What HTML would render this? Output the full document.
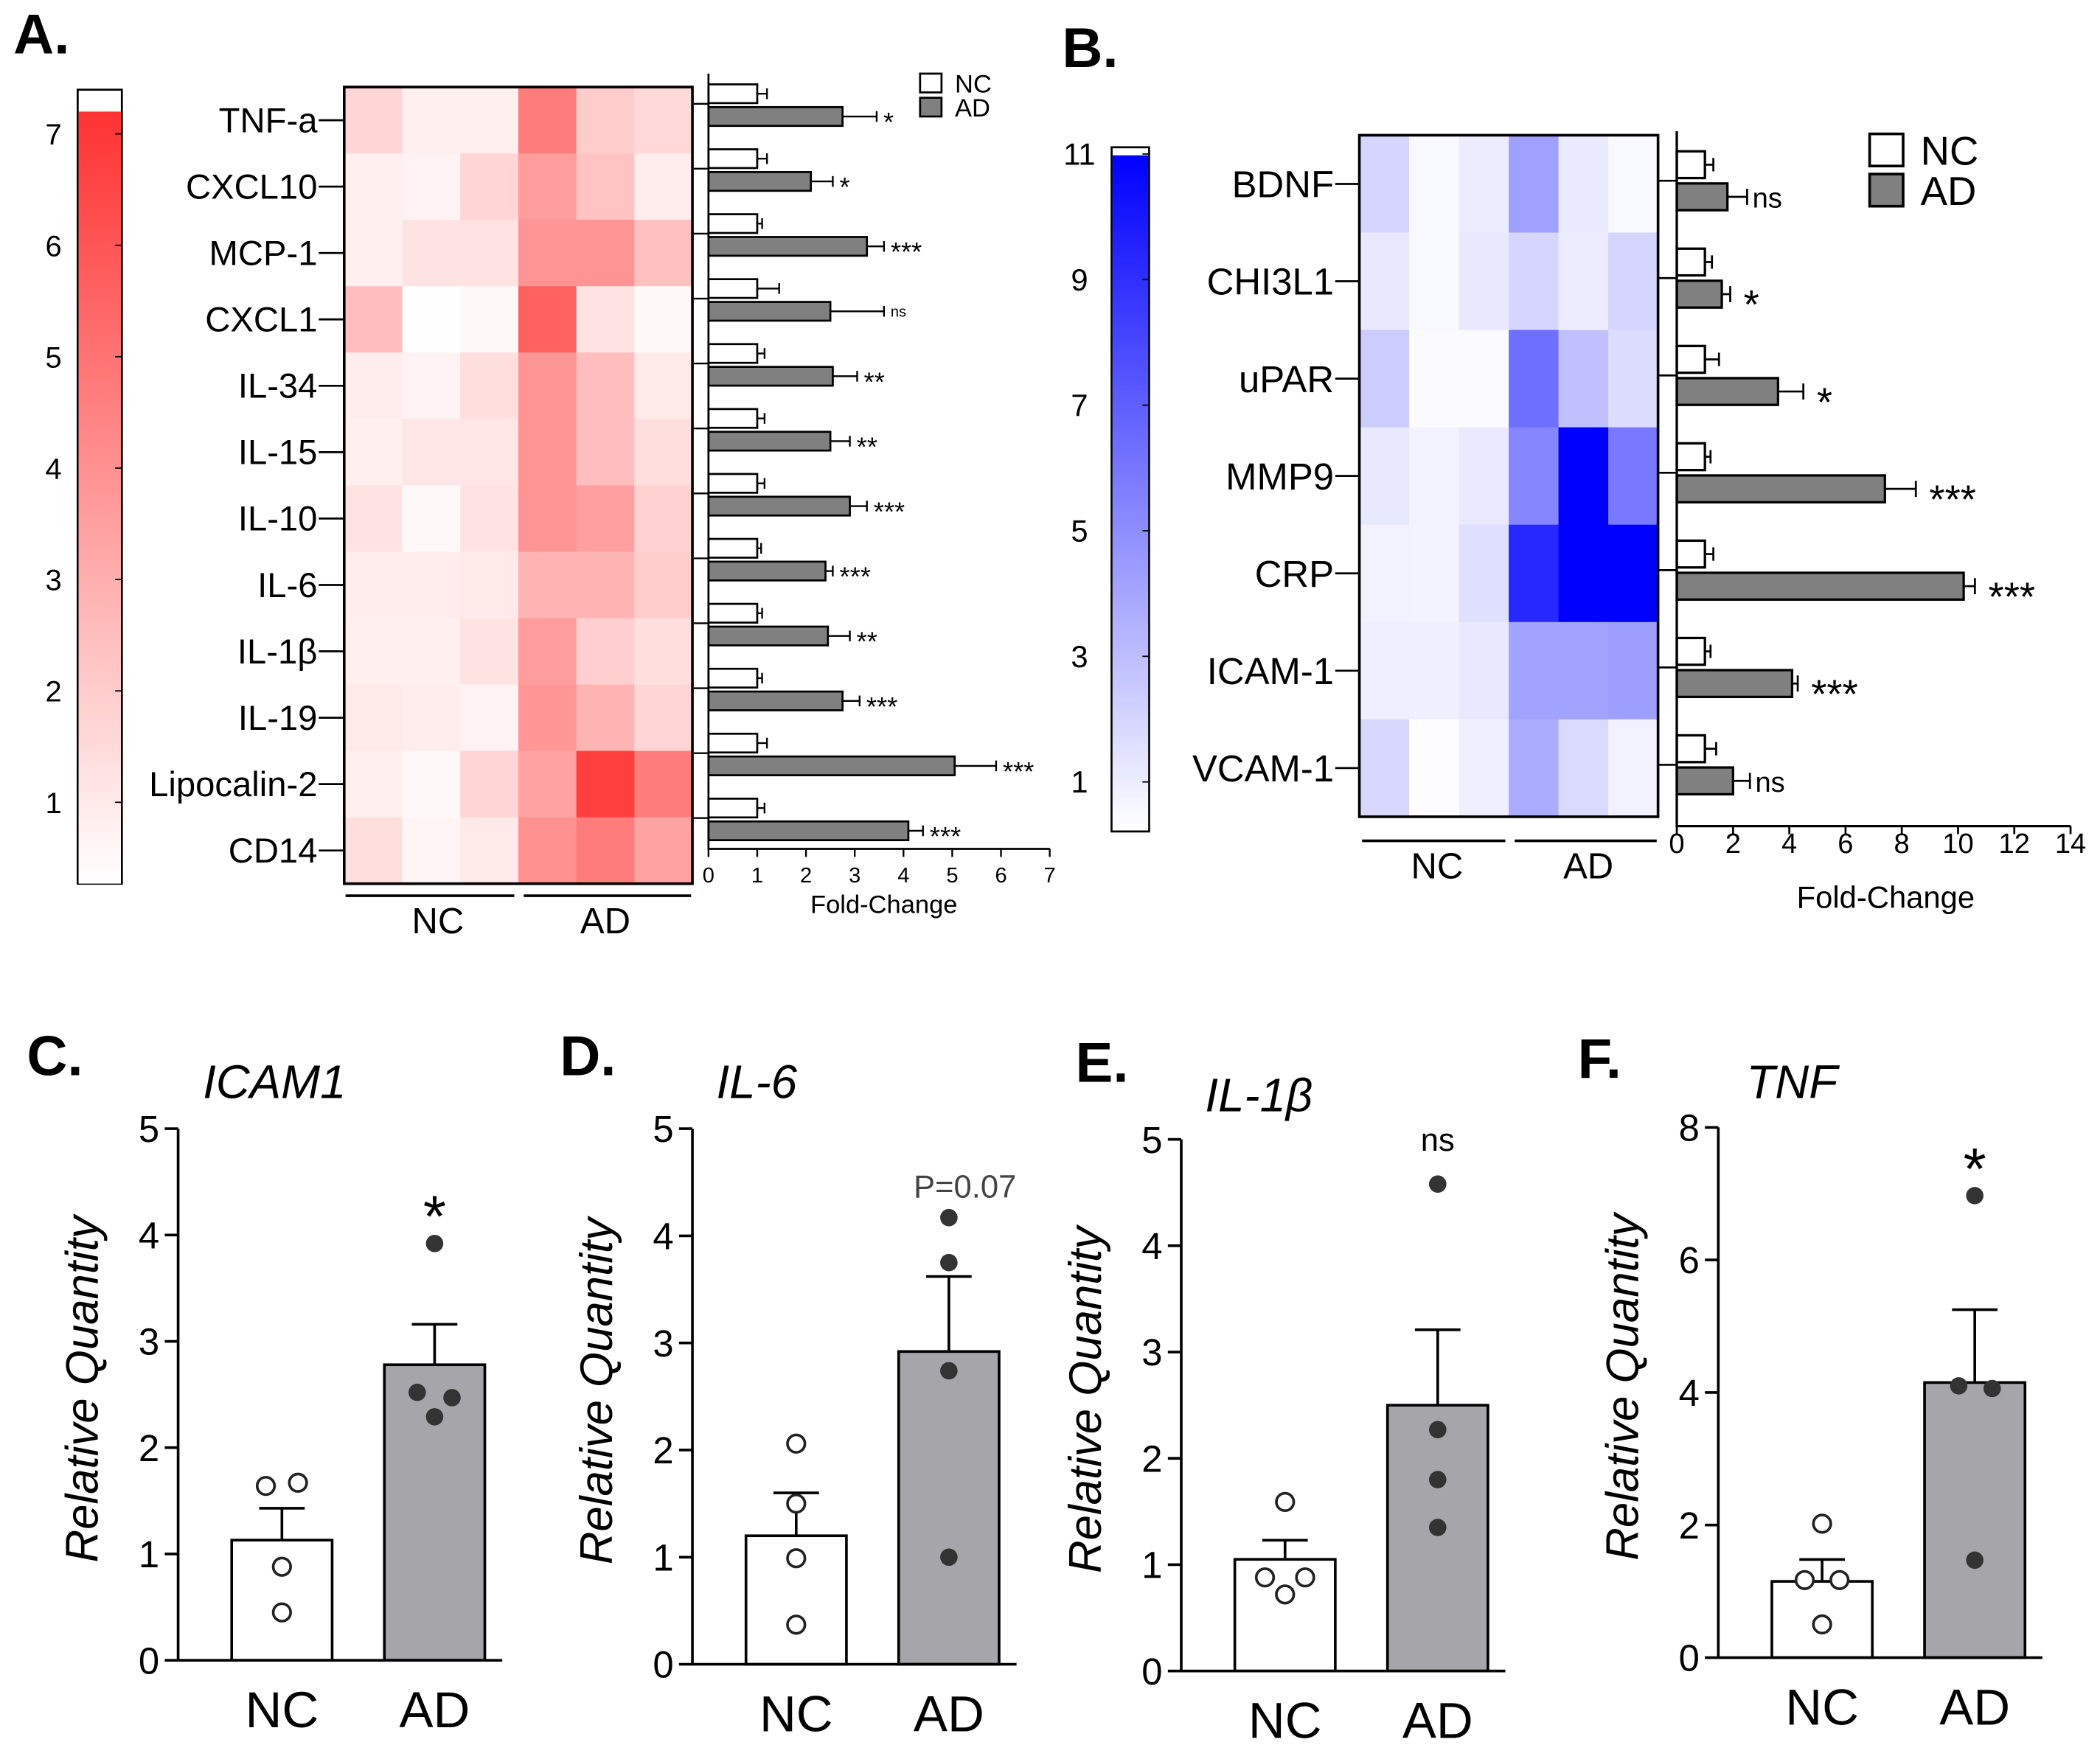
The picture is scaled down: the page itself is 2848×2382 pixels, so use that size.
<!DOCTYPE html>
<html><head><meta charset="utf-8"><style>
html,body{margin:0;padding:0;background:#fff;}
svg{display:block;font-family:"Liberation Sans",sans-serif;}
</style></head><body>
<svg id="fig" width="2848" height="2382" viewBox="0 0 1568 1311.5" preserveAspectRatio="none" xmlns="http://www.w3.org/2000/svg">
<defs>
<linearGradient id="redg" x1="0" y1="1" x2="0" y2="0"><stop offset="0" stop-color="#fff"/><stop offset="1" stop-color="rgb(255,50,50)"/></linearGradient>
<linearGradient id="blueg" x1="0" y1="1" x2="0" y2="0"><stop offset="0" stop-color="#fff"/><stop offset="1" stop-color="rgb(0,0,255)"/></linearGradient>
</defs>
</svg>
<script>
// ---- Panel A data ----
const aGenes=["TNF-a","CXCL10","MCP-1","CXCL1","IL-34","IL-15","IL-10","IL-6","IL-1β","IL-19","Lipocalin-2","CD14"];
const aHeat=[[1.7,0.8,0.8,4.7,2.0,1.6],[0.8,0.7,1.7,3.6,2.3,0.9],[0.8,1.2,1.2,3.9,3.9,2.4],[2.5,0.3,0.5,5.6,1.2,0.5],[0.9,0.7,1.4,3.9,2.5,1.0],[0.8,1.1,1.1,3.9,2.5,1.4],[1.2,0.5,1.2,3.9,3.5,1.8],[0.9,0.9,1.0,2.8,2.8,2.0],[0.8,0.8,1.2,3.6,1.9,1.4],[1.0,0.9,0.7,3.8,2.8,1.7],[0.8,0.5,1.7,3.4,6.8,4.7],[1.4,0.6,1.0,4.0,4.7,3.4]];
const aNC=[1,1,1,1,1,1,1,1,1,1,1,1];
const aNCerr=[1.2,1.2,1.1,1.45,1.15,1.15,1.15,1.08,1.1,1.1,1.2,1.15];
const aAD=[2.75,2.1,3.25,2.5,2.55,2.5,2.9,2.4,2.45,2.75,5.05,4.1];
const aADerr=[3.45,2.55,3.6,3.6,3.05,2.9,3.25,2.55,2.9,3.1,5.9,4.4];
const aSig=["*","*","***","ns","**","**","***","***","**","***","***","***"];
const aXticks=[0,1,2,3,4,5,6,7];
const aCbTicks=[1,2,3,4,5,6,7];
// ---- Panel B data ----
const bGenes=["BDNF","CHI3L1","uPAR","MMP9","CRP","ICAM-1","VCAM-1"];
const bHeat=[[1.8,0.3,0.8,4.1,0.9,0.3],[1.0,0.3,1.0,1.8,0.8,1.8],[2.2,0.2,0.2,6.2,2.7,1.5],[1.0,0.6,0.9,5.2,11,5.8],[0.6,0.5,1.4,9.3,11,11],[0.7,0.7,1.0,4.0,4.0,4.2],[1.7,0.1,0.7,3.6,1.6,0.6]];
const bNC=[1,1,1,1,1,1,1];
const bNCerr=[1.3,1.25,1.5,1.2,1.3,1.2,1.4];
const bAD=[1.8,1.6,3.6,7.4,10.2,4.1,2.0];
const bADerr=[2.5,1.9,4.5,8.5,10.6,4.3,2.6];
const bSig=["ns","*","*","***","***","***","ns"];
const bXticks=[0,2,4,6,8,10,12,14];
const bCbTicks=[1,3,5,7,9,11];
// ---- Panels C-F data ----
const qTitles=["ICAM1","IL-6","IL-1β","TNF"];
const qNCmean=[1.13,1.2,1.05,1.15];
const qNCsem=[1.43,1.6,1.23,1.48];
const qADmean=[2.78,2.92,2.5,4.15];
const qADsem=[3.16,3.62,3.21,5.25];
const qNCpts=[[1.64,1.67,0.88,0.45],[2.06,1.5,0.99,0.37],[1.59,0.88,0.88,0.72],[2.02,1.17,1.17,0.5]];
const qADpts=[[3.92,2.52,2.47,2.29],[4.17,3.75,2.74,1.0],[4.58,2.27,1.8,1.35],[6.97,4.1,4.06,1.47]];
const qSig=["*","P=0.07","ns","*"];
const qMax=[5,5,5,8];
const qTicks=[[0,1,2,3,4,5],[0,1,2,3,4,5],[0,1,2,3,4,5],[0,2,4,6,8]];

const NS="http://www.w3.org/2000/svg";
const svg=document.getElementById('fig');
function mk(tag,at,parent){const e=document.createElementNS(NS,tag);for(const k in at)e.setAttribute(k,at[k]);(parent||svg).appendChild(e);return e;}
function tx(str,at,parent){const e=mk('text',at,parent);e.textContent=str;return e;}
let e;

const letters=[["A.",10,40],["B.",793,50],["C.",20,803],["D.",418,803],["E.",803,808],["F.",1178,805]];
letters.forEach(l=>{e=tx(l[0],{x:l[1],y:l[2],'font-size':42,'font-weight':'bold'});

});

// ===== Panel A colorbar =====
const aCbY=v=>100+(7-v)*83.2;
e=mk('rect',{x:58,y:67,width:33,height:593,fill:'#fff',stroke:'#000','stroke-width':1.5});


e=mk('rect',{x:58.7,y:aCbY(7.2),width:31.6,height:aCbY(0.27)-aCbY(7.2),fill:'url(#redg)'});


aCbTicks.forEach(t=>{
 e=tx(String(t),{x:40,y:aCbY(t)+8,'font-size':22,'text-anchor':'middle'});
 
 
 e=mk('line',{x1:86,x2:91,y1:aCbY(t),y2:aCbY(t),stroke:'#000','stroke-width':1});
 
 
});

// ===== Panel A heatmap =====
const aHX=257,aHY=65,aCW=260/6,aRH=595/12;
function redCol(v){const a=Math.max(0,Math.min(1,(v-0.27)/6.93));const g=Math.round(255-a*205);return `rgb(255,${g},${g})`;}
aHeat.forEach((row,i)=>row.forEach((v,j)=>{
 e=mk('rect',{x:aHX+j*aCW,y:aHY+i*aRH,width:aCW+0.5,height:aRH+0.5,fill:redCol(v)});
 
 
}));
e=mk('rect',{x:aHX,y:aHY,width:260,height:595,fill:'none',stroke:'#000','stroke-width':2});


aGenes.forEach((g,i)=>{
 const cy=aHY+aRH*(i+0.5);
 e=tx(g,{x:237,y:cy+9,'font-size':26,'text-anchor':'end'});
 
 
 e=mk('line',{x1:238,x2:257,y1:cy,y2:cy,stroke:'#000','stroke-width':1.5});
 
 
});
[["NC",258,384,327],["AD",391,516,452]].forEach(g=>{
 e=mk('line',{x1:g[1],x2:g[2],y1:669,y2:669,stroke:'#000','stroke-width':2});
 
 
 e=tx(g[0],{x:g[3],y:697,'font-size':27,'text-anchor':'middle'});
 
 
});

// ===== Panel A bars =====
const aX=v=>529+v*36.4;
aNC.forEach((v,i)=>{
 const yn=63+48.5*i, ya=80+48.5*i;
 e=mk('line',{x1:518,x2:529,y1:yn+14.5,y2:yn+14.5,stroke:'#000','stroke-width':1.3});
 
 
 e=mk('line',{x1:aX(v),x2:aX(aNCerr[i]),y1:yn+7,y2:yn+7,stroke:'#000','stroke-width':1.3});
 
 
 e=mk('line',{x1:aX(aNCerr[i]),x2:aX(aNCerr[i]),y1:yn+3,y2:yn+11,stroke:'#000','stroke-width':1.3});
 
 
 e=mk('rect',{x:aX(0),y:yn,width:aX(v)-aX(0),height:14,fill:'#fff',stroke:'#000','stroke-width':1.5});
 
 
 e=mk('line',{x1:aX(aAD[i]),x2:aX(aADerr[i]),y1:ya+7,y2:ya+7,stroke:'#000','stroke-width':1.3});
 
 
 e=mk('line',{x1:aX(aADerr[i]),x2:aX(aADerr[i]),y1:ya+3,y2:ya+11,stroke:'#000','stroke-width':1.3});
 
 
 e=mk('rect',{x:aX(0),y:ya,width:aX(aAD[i])-aX(0),height:14,fill:'#808080',stroke:'#000','stroke-width':1.5});
 
 
 const ns=aSig[i]==='ns';
 e=tx(aSig[i],{x:aX(aADerr[i])+5,y:ya+(ns?11:18),'font-size':ns?11:20});
 
 
});
e=mk('polyline',{points:`529,55 529,634 784,634`,fill:'none',stroke:'#000','stroke-width':1.5});


aXticks.forEach(t=>{
 e=mk('line',{x1:aX(t),x2:aX(t),y1:634,y2:640,stroke:'#000','stroke-width':1.3});
 
 
 e=tx(String(t),{x:aX(t),y:659,'font-size':16,'text-anchor':'middle'});
 
 
});
e=tx("Fold-Change",{x:660,y:682,'font-size':19,'text-anchor':'middle'});


[["NC",55,'#fff'],["AD",73,'#808080']].forEach(l=>{
 e=mk('rect',{x:687,y:l[1],width:16,height:14,fill:l[2],stroke:'#000','stroke-width':1.5});
 
 
 e=tx(l[0],{x:713,y:l[1]+14,'font-size':19});
 
 
});

// ===== Panel B colorbar =====
const bCbY=v=>115+(11-v)*46.9;
e=mk('rect',{x:830,y:110,width:28,height:511,fill:'#fff',stroke:'#000','stroke-width':1.5});


e=mk('rect',{x:830.7,y:116,width:26.6,height:504,fill:'url(#blueg)'});


bCbTicks.forEach(t=>{
 e=tx(String(t),{x:806,y:bCbY(t)+8,'font-size':23,'text-anchor':'middle'});
 
 
 e=mk('line',{x1:853,x2:858,y1:bCbY(t),y2:bCbY(t),stroke:'#000','stroke-width':1});
 
 
});

// ===== Panel B heatmap =====
const bHX=1015,bHY=101,bCW=223/6,bRH=509/7;
function blueCol(v){const a=Math.max(0,Math.min(1,v/11));const g=Math.round(255-a*255);return `rgb(${g},${g},255)`;}
bHeat.forEach((row,i)=>row.forEach((v,j)=>{
 e=mk('rect',{x:bHX+j*bCW,y:bHY+i*bRH,width:bCW+0.5,height:bRH+0.5,fill:blueCol(v)});
 
 
}));
e=mk('rect',{x:bHX,y:bHY,width:223,height:509,fill:'none',stroke:'#000','stroke-width':2});


bGenes.forEach((g,i)=>{
 const cy=bHY+bRH*(i+0.5);
 e=tx(g,{x:996,y:cy+10,'font-size':28,'text-anchor':'end'});
 
 
 e=mk('line',{x1:997,x2:1015,y1:cy,y2:cy,stroke:'#000','stroke-width':1.5});
 
 
});
[["NC",1017,1124,1073],["AD",1131,1237,1186]].forEach(g=>{
 e=mk('line',{x1:g[1],x2:g[2],y1:628,y2:628,stroke:'#000','stroke-width':2});
 
 
 e=tx(g[0],{x:g[3],y:656,'font-size':27,'text-anchor':'middle'});
 
 
});

// ===== Panel B bars =====
const bX=v=>1252+v*21;
bNC.forEach((v,i)=>{
 const yn=113+72.7*i, ya=137+72.7*i;
 e=mk('line',{x1:1238,x2:1252,y1:yn+22,y2:yn+22,stroke:'#000','stroke-width':1.5});
 
 
 e=mk('line',{x1:bX(v),x2:bX(bNCerr[i]),y1:yn+10,y2:yn+10,stroke:'#000','stroke-width':1.5});
 
 
 e=mk('line',{x1:bX(bNCerr[i]),x2:bX(bNCerr[i]),y1:yn+5,y2:yn+15,stroke:'#000','stroke-width':1.5});
 
 
 e=mk('rect',{x:bX(0),y:yn,width:bX(v)-bX(0),height:20,fill:'#fff',stroke:'#000','stroke-width':1.8});
 
 
 e=mk('line',{x1:bX(bAD[i]),x2:bX(bADerr[i]),y1:ya+10,y2:ya+10,stroke:'#000','stroke-width':1.5});
 
 
 e=mk('line',{x1:bX(bADerr[i]),x2:bX(bADerr[i]),y1:ya+4,y2:ya+16,stroke:'#000','stroke-width':1.5});
 
 
 e=mk('rect',{x:bX(0),y:ya,width:bX(bAD[i])-bX(0),height:20,fill:'#808080',stroke:'#000','stroke-width':1.8});
 
 
 const ns=bSig[i]==='ns';
 e=tx(bSig[i],{x:bX(bADerr[i])+(ns?4:10),y:ya+(ns?18:28),'font-size':ns?21:30});
 
 
});
e=mk('polyline',{points:`1252,98 1252,617 1546,617`,fill:'none',stroke:'#000','stroke-width':1.8});


bXticks.forEach(t=>{
 e=mk('line',{x1:bX(t),x2:bX(t),y1:617,y2:623,stroke:'#000','stroke-width':1.5});
 
 
 e=tx(String(t),{x:bX(t),y:637,'font-size':21,'text-anchor':'middle'});
 
 
});
e=tx("Fold-Change",{x:1408,y:678,'font-size':23,'text-anchor':'middle'});


[["NC",100,'#fff'],["AD",130,'#808080']].forEach(l=>{
 e=mk('rect',{x:1396,y:l[1],width:25,height:24,fill:l[2],stroke:'#000','stroke-width':2});
 
 
 e=tx(l[0],{x:1434,y:l[1]+23,'font-size':30});
 
 
});

// ===== Panels C-F =====
const qAxX=[133,517,882,1283];
const qY0=[1240,1243,1248,1238];
const qYTop=[843,843,851,842];
const qTitleX=[205,565,940,1338];
const qTitleY=[820,820,830,820];
const ncJit=[[-12,12,0,0],[0,0,0,0],[0,-15,15,0],[0,-13,13,0]];
const adJit=[[0,-13,13,0],[0,0,0,0],[0,0,0,0],[0,-12,13,0]];
qTitles.forEach((t,k)=>{
 const ax=qAxX[k], y0=qY0[k], yt=qYTop[k];
 const Y=v=>y0-(y0-yt)*v/qMax[k];
 const ncX=ax+40, adX=ax+154, bw=75;
 const g=mk('g',{});
 
 
 e=tx(t,{x:qTitleX[k],y:qTitleY[k],'font-size':35,'font-style':'italic','text-anchor':'middle'},g);
 
 
 const cy=(y0+yt)/2;
 e=tx("Relative Quantity",{x:0,y:0,'font-size':34,'font-style':'italic','text-anchor':'middle',transform:`translate(${ax-60},${cy-4}) rotate(-90)`},g);
 
 
 [[ncX,qNCmean[k],qNCsem[k],'#fff'],[adX,qADmean[k],qADsem[k],'#a6a6aa']].forEach((b,bi)=>{
  e=mk('line',{x1:b[0]+bw/2,x2:b[0]+bw/2,y1:Y(b[1]),y2:Y(b[2]),stroke:'#000','stroke-width':2},g);
  
  
  e=mk('line',{x1:b[0]+bw/2-17,x2:b[0]+bw/2+17,y1:Y(b[2]),y2:Y(b[2]),stroke:'#000','stroke-width':2},g);
  
  
  e=mk('rect',{x:b[0],y:Y(b[1]),width:bw,height:Y(0)-Y(b[1]),fill:b[3],stroke:'#000','stroke-width':2},g);
  
  
 });
 qNCpts[k].forEach((v,i)=>{
  e=mk('circle',{cx:ncX+bw/2+ncJit[k][i],cy:Y(v),r:6.5,fill:'#fff',stroke:'#222','stroke-width':2},g);
  
  
 });
 qADpts[k].forEach((v,i)=>{
  e=mk('circle',{cx:adX+bw/2+adJit[k][i],cy:Y(v),r:6.5,fill:'#333'},g);
  
  
 });
 e=mk('polyline',{points:`${ax},${yt} ${ax},${y0} ${ax+242},${y0}`,fill:'none',stroke:'#000','stroke-width':2},g);
 
 
 qTicks[k].forEach(tv=>{
  e=mk('line',{x1:ax-10,x2:ax,y1:Y(tv),y2:Y(tv),stroke:'#000','stroke-width':2},g);
  
  
  e=tx(String(tv),{x:ax-14,y:Y(tv)+10,'font-size':28,'text-anchor':'end'},g);
  
  
 });
 e=tx("NC",{x:ncX+bw/2,y:y0+50,'font-size':38,'text-anchor':'middle'},g);
 
 
 e=tx("AD",{x:adX+bw/2,y:y0+50,'font-size':38,'text-anchor':'middle'},g);
 
 
 const s=qSig[k];
 const sy=Math.min(...qADpts[k].map(Y));
 if(s==='*'){e=tx(s,{x:adX+bw/2,y:sy-5,'font-size':44,'text-anchor':'middle'},g);}
 else if(s==='ns'){e=tx(s,{x:adX+bw/2,y:sy-25,'font-size':24,'text-anchor':'middle'},g);}
 else {e=tx(s,{x:adX+bw/2+12,y:sy-15,'font-size':24,'text-anchor':'middle',fill:'#444'},g);}
 
 
});
</script>
</body></html>
